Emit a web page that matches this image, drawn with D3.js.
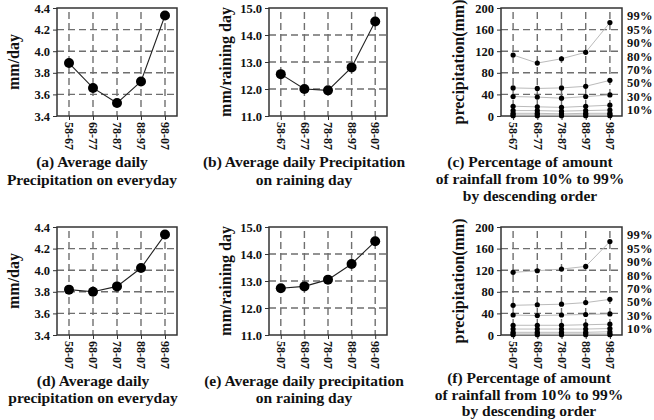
<!DOCTYPE html>
<html>
<head>
<meta charset="utf-8">
<script src="https://cdn.jsdelivr.net/npm/d3@7"></script>
<style>
  body { margin: 0; background: #fff; }
  svg text { font-family: "Liberation Serif", "Times New Roman", serif; font-weight: bold; fill: #111; }
</style>
</head>
<body>
<div id="app"></div>
<script>
// periods on the x axis
const periods1 = ["58-67", "68-77", "78-87", "88-97", "98-07"];
const periods2 = ["58-07", "68-07", "78-07", "88-07", "98-07"];

// average daily precipitation (mm/day)
const everyday1 = [3.89, 3.66, 3.52, 3.72, 4.33];
const everyday2 = [3.82, 3.80, 3.85, 4.02, 4.33];

// average precipitation on raining day (mm/raining day)
const rainday1 = [12.55, 12.0, 11.95, 12.8, 14.5];
const rainday2 = [12.73, 12.8, 13.05, 13.63, 14.47];

// percentile labels, top to bottom
const pctLabels = ["99%", "95%", "90%", "80%", "70%", "50%", "30%", "10%"];

// percentile precipitation (mm), one row per percentile (99,95,90,80,70,50,30,10)
const pct1 = [
  [113, 98, 106, 118, 173],
  [52, 51, 52, 55, 66],
  [36, 35, 33, 36, 39],
  [18, 17, 16, 18, 20],
  [10, 10, 9, 10, 11],
  [5, 5, 4, 5, 5],
  [2, 2, 2, 2, 2],
  [0.5, 0.5, 0.5, 0.5, 0.5]
];
const pct2 = [
  [116, 119, 122, 127, 173],
  [55, 56, 57, 60, 66],
  [37, 36, 37, 38, 39],
  [18, 18, 18, 19, 20],
  [11, 11, 11, 11, 12],
  [5, 5, 5, 5, 6],
  [2, 2, 2, 2, 2],
  [0.5, 0.5, 0.5, 0.5, 0.5]
];

const ticksDaily = [3.4, 3.6, 3.8, 4.0, 4.2, 4.4];
const ticksRain = [11, 12, 13, 14, 15];
const ticksPct = [0, 40, 80, 120, 160, 200];

const svg = d3.select('#app').append('svg')
  .attr('width', 654)
  .attr('height', 420);

function frame(box, cats, yDomain, yTicks, fmt, yLabel, labelX) {
  const g = svg.append('g');
  const x = d3.scalePoint().domain(cats).range([box.l, box.r]).padding(0.5);
  const y = d3.scaleLinear().domain(yDomain).range([box.b, box.t]);

  // dashed grid
  g.selectAll('.hg').data(yTicks.slice(1, -1)).enter().append('line')
    .attr('x1', box.l).attr('x2', box.r)
    .attr('y1', d => y(d)).attr('y2', d => y(d))
    .attr('stroke', '#6f6f6f').attr('stroke-width', 1.4).attr('stroke-dasharray', '7,4');
  g.selectAll('.vg').data(cats).enter().append('line')
    .attr('x1', d => x(d)).attr('x2', d => x(d))
    .attr('y1', box.t + 4).attr('y2', box.b)
    .attr('stroke', '#6f6f6f').attr('stroke-width', 1.4).attr('stroke-dasharray', '7,4');

  const ya = g.append('g').attr('transform', `translate(${box.l},0)`)
    .call(d3.axisLeft(y).tickValues(yTicks).tickFormat(d3.format(fmt)).tickSize(4).tickSizeOuter(0).tickPadding(3));
  ya.select('.domain').remove();
  ya.selectAll('text').style('font-size', '12.5px');
  ya.selectAll('line').attr('stroke', '#333');

  const xa = g.append('g').attr('transform', `translate(0,${box.b})`)
    .call(d3.axisBottom(x).tickSize(4).tickSizeOuter(0).tickPadding(3));
  xa.select('.domain').remove();
  xa.selectAll('line').attr('stroke', '#333');
  xa.selectAll('text')
    .style('font-size', '12px')
    .attr('text-anchor', 'start')
    .attr('transform', 'rotate(90)')
    .attr('x', 6).attr('y', 0).attr('dy', '0.35em');

  g.append('rect')
    .attr('x', box.l).attr('y', box.t)
    .attr('width', box.r - box.l).attr('height', box.b - box.t)
    .attr('fill', 'none').attr('stroke', '#333').attr('stroke-width', 1.5);

  g.append('text')
    .attr('transform', `translate(${labelX},${(box.t + box.b) / 2}) rotate(-90)`)
    .attr('text-anchor', 'middle').attr('dy', '0.35em')
    .style('font-size', '16px')
    .text(yLabel);

  return { g, x, y };
}

function linePanel(box, cats, vals, yDomain, yTicks, yLabel, labelX) {
  const { g, x, y } = frame(box, cats, yDomain, yTicks, '.1f', yLabel, labelX);
  const pts = cats.map((c, i) => [c, vals[i]]);
  g.append('path').datum(pts)
    .attr('d', d3.line().x(d => x(d[0])).y(d => y(d[1])))
    .attr('fill', 'none').attr('stroke', '#222').attr('stroke-width', 1.1);
  g.selectAll('circle').data(pts).enter().append('circle')
    .attr('cx', d => x(d[0])).attr('cy', d => y(d[1]))
    .attr('r', 5).attr('fill', '#000');
}

function pctPanel(box, cats, series, yLabel, labelX) {
  const { g, x, y } = frame(box, cats, [0, 200], ticksPct, 'd', yLabel, labelX);
  series.forEach(vals => {
    const pts = cats.map((c, i) => [c, vals[i]]);
    g.append('path').datum(pts)
      .attr('d', d3.line().x(d => x(d[0])).y(d => y(d[1])))
      .attr('fill', 'none').attr('stroke', '#bbb').attr('stroke-width', 1);
    g.selectAll(null).data(pts).enter().append('circle')
      .attr('cx', d => x(d[0])).attr('cy', d => y(d[1]))
      .attr('r', 2.6).attr('fill', '#000');
  });
  g.selectAll('.pl').data(pctLabels).enter().append('text')
    .attr('x', box.r + 5)
    .attr('y', (d, i) => box.t + 8 + i * 13.4)
    .attr('dy', '0.35em')
    .style('font-size', '12.5px')
    .style('letter-spacing', '0.3px')
    .text(d => d);
}

function caption(cx, ys, lines) {
  lines.forEach((t, i) => {
    svg.append('text')
      .attr('x', cx).attr('y', ys[i])
      .attr('text-anchor', 'middle')
      .style('font-size', '15.5px')
      .text(t);
  });
}

const row1 = { t: 8, b: 116 };
const row2 = { t: 227, b: 335 };
const colA = { l: 57, r: 177 };
const colB = { l: 269, r: 387 };
const colC = { l: 501, r: 622 };

linePanel({ ...colA, ...row1 }, periods1, everyday1, [3.4, 4.4], ticksDaily, 'mm/day', 13);
linePanel({ ...colB, ...row1 }, periods1, rainday1, [11, 15], ticksRain, 'mm/raining day', 225);
pctPanel({ ...colC, ...row1 }, periods1, pct1, 'precipitation(mm)', 458);

linePanel({ ...colA, ...row2 }, periods2, everyday2, [3.4, 4.4], ticksDaily, 'mm/day', 13);
linePanel({ ...colB, ...row2 }, periods2, rainday2, [11, 15], ticksRain, 'mm/raining day', 225);
pctPanel({ ...colC, ...row2 }, periods2, pct2, 'precipitation(mm)', 458);

caption(92, [167, 185], ['(a) Average daily', 'Precipitation on everyday']);
caption(304, [167, 185], ['(b) Average daily Precipitation', 'on raining day']);
caption(530, [167, 184, 201], ['(c) Percentage of amount', 'of rainfall from 10% to 99%', 'by descending order']);
caption(93, [386, 403], ['(d) Average daily', 'precipitation on everyday']);
caption(304, [386, 403], ['(e) Average daily precipitation', 'on raining day']);
caption(529, [383, 399.5, 416], ['(f) Percentage of amount', 'of rainfall from 10% to 99%', 'by descending order']);
</script>
</body>
</html>
